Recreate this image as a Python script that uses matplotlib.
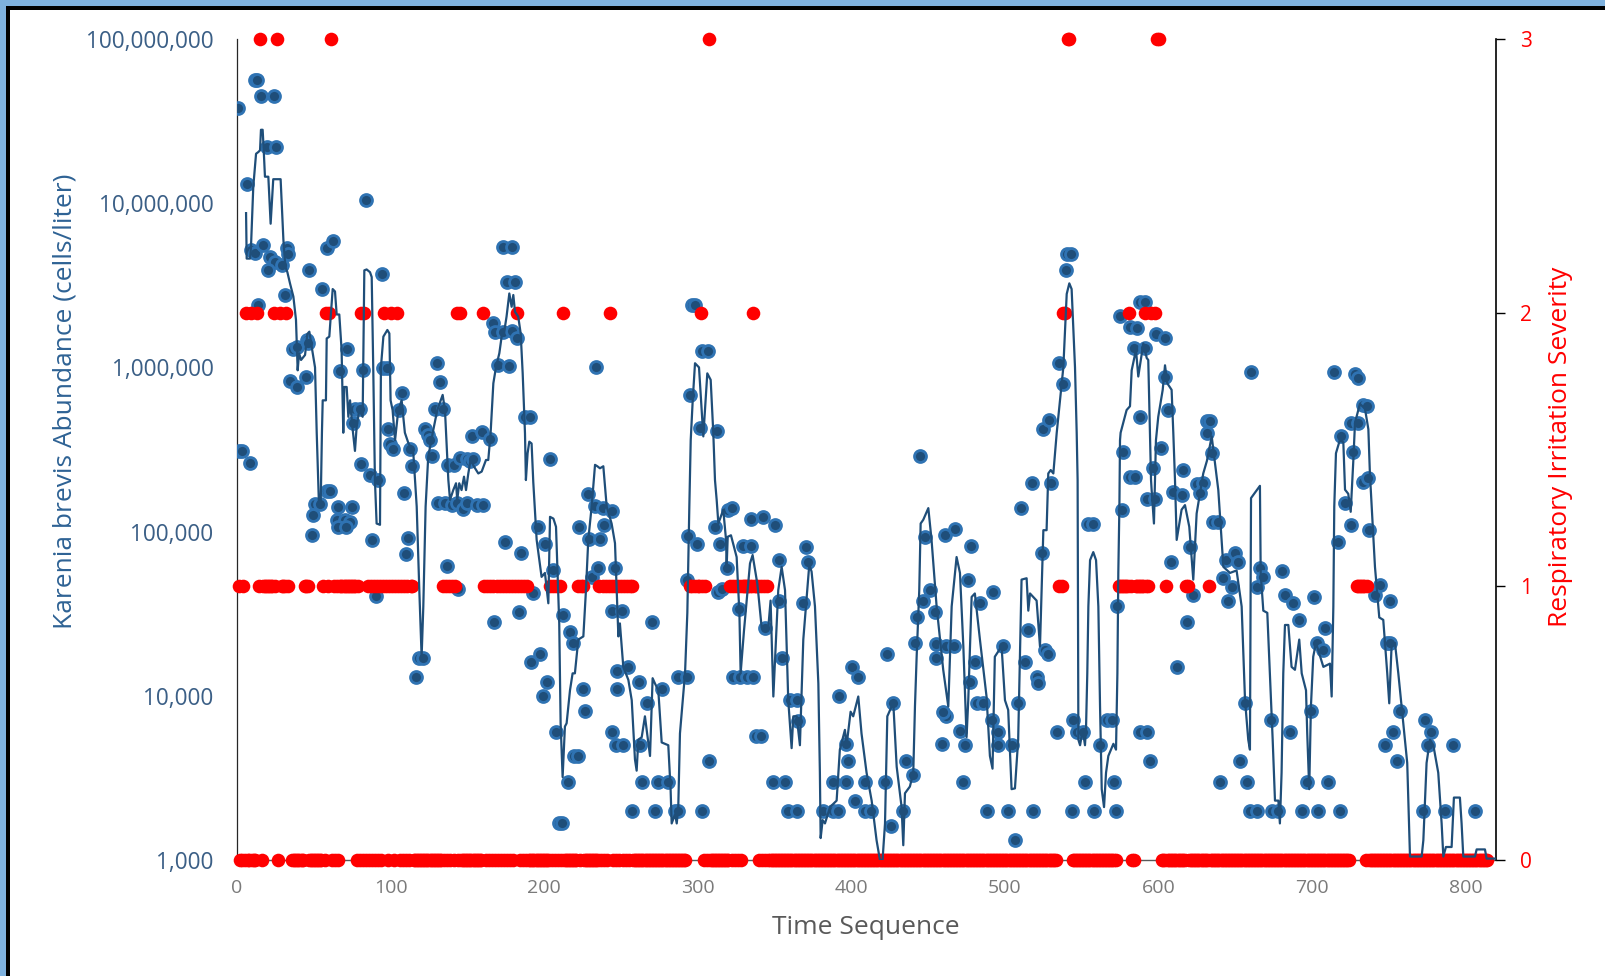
import matplotlib
matplotlib.use("Agg")
import matplotlib.pyplot as plt
from matplotlib.patches import Rectangle
from matplotlib.ticker import NullLocator

plt.rcParams['font.family'] = ['Open Sans', 'DejaVu Sans']

# ---------------- data ----------------
x_ticks = [0, 100, 200, 300, 400, 500, 600, 700, 800]
y_ticks = [1e3, 1e4, 1e5, 1e6, 1e7, 1e8]
sev_ticks = [0, 1, 2, 3]

# observed K. brevis abundance (scatter)
dot_time = [
    0.4, 1.5, 3.5, 8.5, 6.3, 9.0, 11.5, 11.7, 13.2, 15.4,
    24.1, 19.3, 25.4, 17.1, 13.9, 21.5, 24.7, 29.1, 20.4, 32.8,
    33.4, 31.5, 36.2, 38.9, 45.4, 46.4, 34.5, 39.3, 45.0, 46.9,
    50.8, 54.0, 49.7, 48.6, 55.6, 58.4, 62.7, 58.4, 60.5, 65.5,
    74.7, 64.9, 70.3, 73.6, 65.8, 71.0, 67.0, 82.2, 71.4, 75.7,
    76.8, 80.0, 80.5, 84.0, 86.6, 92.0, 88.1, 90.3, 94.6, 95.3,
    97.5, 98.5, 99.6, 101.8, 105.5, 107.2, 108.7, 109.8, 111.5, 112.6,
    114.1, 116.3, 118.5, 120.9, 122.4, 124.6, 125.7, 127.2, 128.6, 134.0,
    130.0, 132.2, 131.0, 135.4, 139.8, 143.0, 147.4, 149.6, 156.0, 160.4,
    136.5, 144.1, 137.6, 141.0, 145.2, 149.5, 151.7, 153.8, 152.8, 159.3,
    164.7, 166.4, 168.3, 172.9, 178.9, 182.1, 170.0, 177.3, 173.4, 178.9,
    175.6, 181.0, 174.7, 167.5, 183.6, 185.1, 187.5, 190.8, 192.8, 195.8,
    191.4, 197.3, 200.5, 199.0, 202.0, 203.8, 206.0, 208.0, 209.5, 211.5,
    212.3, 215.2, 216.8, 218.5, 219.6, 222.2, 222.7, 225.0, 226.6, 228.7,
    233.1, 238.5, 244.0, 229.4, 236.3, 230.9, 235.3, 233.5, 239.2, 244.0,
    250.5, 244.0, 246.7, 246.1, 247.2, 254.8, 247.2, 251.5, 257.0, 261.9,
    262.4, 263.4, 266.7, 270.4, 272.0, 274.2, 276.4, 280.8, 285.0, 287.3,
    287.3, 292.8, 292.8, 293.9, 299.3, 294.9, 296.0, 298.2, 301.4, 302.5,
    306.8, 302.5, 307.3, 311.2, 312.7, 313.3, 315.5, 314.5, 318.8, 319.9,
    322.0, 323.1, 327.5, 331.8, 336.1, 327.0, 329.6, 334.4, 334.9, 342.6,
    350.3, 338.0, 341.0, 343.8, 349.2, 356.8, 352.9, 352.9, 354.6, 358.9,
    364.3, 360.0, 364.3, 365.4, 368.7, 370.2, 371.9, 381.5, 388.0, 391.3,
    388.0, 396.7, 392.0, 396.8, 398.0, 400.5, 404.4, 402.3, 408.8, 408.8,
    412.5, 421.9, 423.3, 425.8, 427.2, 433.3, 435.5, 439.8, 441.4, 442.5,
    446.7, 451.2, 454.4, 445.0, 447.9, 460.9, 467.4, 477.9, 455.4, 461.9,
    466.8, 455.0, 461.9, 459.8, 458.7, 470.7, 474.0, 472.7, 476.0, 477.2,
    480.5, 481.6, 485.9, 483.7, 492.4, 491.3, 495.6, 495.6, 498.8, 504.3,
    488.0, 502.2, 506.5, 508.7, 518.4, 510.7, 517.3, 530.0, 515.2, 513.0,
    520.6, 521.7, 523.8, 526.0, 528.0, 525.0, 528.5, 533.6, 535.3, 537.5,
    539.5, 540.4, 543.0, 543.4, 544.4, 546.6, 550.9, 552.1, 554.3, 557.0,
    558.1, 561.8, 566.2, 569.4, 571.2, 572.2, 573.0, 574.9, 575.9, 576.9,
    581.4, 585.7, 581.4, 584.6, 584.0, 591.1, 587.7, 591.0, 587.9, 587.9,
    592.3, 592.3, 597.7, 594.4, 596.6, 598.3, 604.2, 601.9, 604.2, 606.3,
    608.4, 609.6, 615.0, 612.3, 616.0, 618.2, 620.4, 622.6, 624.8, 629.1,
    627.0, 631.3, 633.5, 631.3, 634.5, 635.6, 638.9, 640.0, 642.0, 644.2,
    645.3, 647.5, 649.6, 651.8, 653.0, 656.3, 657.4, 659.5, 663.8, 660.5,
    663.8, 666.0, 668.2, 673.2, 673.6, 677.9, 680.4, 682.3, 687.8, 685.5,
    691.5, 693.6, 696.4, 699.5, 701.2, 702.9, 707.2, 703.8, 708.3, 710.5,
    714.4, 717.0, 718.0, 719.0, 721.4, 725.0, 725.6, 730.0, 726.8, 727.9,
    730.0, 733.2, 735.4, 733.1, 736.4, 737.0, 740.9, 744.1, 750.7, 748.5,
    750.7, 747.4, 752.8, 755.0, 757.2, 772.3, 773.4, 775.6, 777.7, 786.5,
    791.9, 806.0,
]
dot_cells = [
    3.8e7, 3.1e5, 3.1e5, 2.6e5, 1.3e7, 5.2e6, 5.0e6, 5.6e7, 5.6e7, 4.5e7,
    4.5e7, 2.2e7, 2.2e7, 5.6e6, 2.4e6, 4.7e6, 4.4e6, 4.2e6, 3.9e6, 5.3e6,
    4.9e6, 2.75e6, 1.3e6, 1.34e6, 1.47e6, 1.41e6, 8.3e5, 7.6e5, 8.8e5, 3.9e6,
    1.47e5, 1.47e5, 1.26e5, 9.5e4, 3.0e6, 5.3e6, 5.9e6, 1.77e5, 1.77e5, 1.42e5,
    1.42e5, 1.17e5, 1.17e5, 1.15e5, 1.06e5, 1.07e5, 9.5e5, 9.6e5, 1.3e6, 4.6e5,
    5.6e5, 5.6e5, 2.57e5, 1.05e7, 2.2e5, 2.06e5, 8.9e4, 4.06e4, 3.7e6, 9.9e5,
    9.9e5, 4.2e5, 3.4e5, 3.2e5, 5.5e5, 6.95e5, 1.73e5, 7.3e4, 9.1e4, 3.2e5,
    2.5e5, 1.3e4, 1.7e4, 1.7e4, 4.2e5, 3.9e5, 3.6e5, 2.9e5, 5.6e5, 5.6e5,
    1.07e6, 8.2e5, 1.5e5, 1.5e5, 1.45e5, 1.5e5, 1.38e5, 1.5e5, 1.45e5, 1.45e5,
    6.2e4, 4.5e4, 2.55e5, 2.55e5, 2.8e5, 2.75e5, 2.7e5, 2.75e5, 3.8e5, 4.05e5,
    3.65e5, 1.86e6, 1.64e6, 1.65e6, 1.67e6, 1.52e6, 1.03e6, 1.02e6, 5.4e6, 5.4e6,
    3.3e6, 3.3e6, 8.7e4, 2.8e4, 3.24e4, 7.4e4, 5.0e5, 5.0e5, 4.2e4, 1.06e5,
    1.6e4, 1.8e4, 8.4e4, 1.0e4, 1.22e4, 2.75e5, 5.8e4, 6.0e3, 1.67e3, 1.67e3,
    3.1e4, 3.0e3, 2.43e4, 2.1e4, 4.3e3, 4.3e3, 1.06e5, 1.1e4, 8.1e3, 1.7e5,
    1.43e5, 1.39e5, 1.34e5, 9.0e4, 9.0e4, 5.3e4, 6.0e4, 1.0e6, 1.1e5, 3.3e4,
    3.3e4, 6.0e3, 5.0e3, 6.0e4, 1.42e4, 1.5e4, 1.1e4, 5.0e3, 2.0e3, 1.22e4,
    5.0e3, 3.0e3, 9.1e3, 2.8e4, 2.0e3, 3.0e3, 1.1e4, 3.0e3, 2.0e3, 2.0e3,
    1.3e4, 1.3e4, 5.1e4, 9.4e4, 8.4e4, 6.8e5, 2.4e6, 2.4e6, 4.3e5, 1.26e6,
    1.26e6, 2.0e3, 4.0e3, 1.06e5, 4.1e5, 4.3e4, 4.5e4, 8.4e4, 6.0e4, 1.36e5,
    1.4e5, 1.3e4, 1.3e4, 1.3e4, 1.3e4, 3.4e4, 8.2e4, 8.2e4, 1.19e5, 1.23e5,
    1.1e5, 5.7e3, 5.7e3, 2.6e4, 3.0e3, 3.0e3, 6.7e4, 3.8e4, 1.7e4, 2.0e3,
    2.0e3, 9.4e3, 9.4e3, 7.0e3, 3.7e4, 8.1e4, 6.5e4, 2.0e3, 2.0e3, 2.0e3,
    3.0e3, 3.0e3, 1.0e4, 5.1e3, 4.0e3, 1.5e4, 1.3e4, 2.3e3, 3.0e3, 2.0e3,
    2.0e3, 3.0e3, 1.8e4, 1.6e3, 9.1e3, 2.0e3, 4.0e3, 3.3e3, 2.1e4, 3.0e4,
    3.8e4, 4.4e4, 3.25e4, 2.9e5, 9.3e4, 9.5e4, 1.03e5, 8.2e4, 2.07e4, 2.0e4,
    2.0e4, 1.7e4, 7.5e3, 8.0e3, 5.1e3, 6.1e3, 5.0e3, 3.0e3, 5.1e4, 1.22e4,
    1.6e4, 9.1e3, 9.1e3, 3.7e4, 4.3e4, 7.1e3, 6.0e3, 5.0e3, 2.0e4, 5.0e3,
    2.0e3, 2.0e3, 1.32e3, 9.1e3, 2.0e3, 1.39e5, 1.97e5, 1.97e5, 2.5e4, 1.6e4,
    1.3e4, 1.2e4, 7.4e4, 1.9e4, 1.8e4, 4.2e5, 4.8e5, 6.0e3, 1.07e6, 7.9e5,
    3.9e6, 4.9e6, 4.9e6, 2.0e3, 7.1e3, 6.0e3, 6.0e3, 3.0e3, 1.12e5, 1.12e5,
    2.0e3, 5.0e3, 7.1e3, 7.1e3, 3.0e3, 2.0e3, 3.5e4, 2.05e6, 1.36e5, 3.07e5,
    1.77e6, 1.73e6, 2.14e5, 2.16e5, 1.32e6, 1.32e6, 2.5e6, 2.5e6, 5.0e5, 6.0e3,
    6.0e3, 1.58e5, 1.58e5, 4.0e3, 2.45e5, 1.59e6, 1.5e6, 3.25e5, 8.8e5, 5.5e5,
    6.5e4, 1.75e5, 1.67e5, 1.5e4, 2.37e5, 2.8e4, 8.1e4, 4.1e4, 1.95e5, 1.97e5,
    1.71e5, 4.7e5, 4.7e5, 4.0e5, 3.0e5, 1.15e5, 1.15e5, 3.0e3, 5.2e4, 6.7e4,
    3.8e4, 4.6e4, 7.4e4, 6.5e4, 4.0e3, 9.1e3, 3.0e3, 2.0e3, 2.0e3, 9.4e5,
    4.6e4, 6.0e4, 5.3e4, 7.1e3, 2.0e3, 2.0e3, 5.75e4, 4.1e4, 3.7e4, 6.0e3,
    2.9e4, 2.0e3, 3.0e3, 8.1e3, 4.0e4, 2.1e4, 1.9e4, 2.0e3, 2.6e4, 3.0e3,
    9.4e5, 8.7e4, 2.0e3, 3.8e5, 1.5e5, 1.1e5, 4.6e5, 4.6e5, 3.07e5, 9.1e5,
    8.6e5, 5.9e5, 5.8e5, 2.0e5, 2.13e5, 1.02e5, 4.1e4, 4.7e4, 3.8e4, 2.1e4,
    2.1e4, 5.0e3, 6.0e3, 4.0e3, 8.1e3, 2.0e3, 7.1e3, 5.0e3, 6.0e3, 2.0e3,
    5.0e3, 2.0e3,
]

# smoothed abundance (line)
line_time = [
    5.9, 6.3, 8.5, 9.1, 10.6, 12.4, 13.9, 15.0, 15.6, 16.7,
    17.4, 18.2, 20.4, 21.9, 23.6, 28.4, 30.2, 31.5, 32.8, 34.5,
    36.7, 38.4, 39.5, 40.4, 41.7, 44.3, 45.8, 47.1, 48.6, 50.8,
    51.9, 53.4, 54.5, 55.3, 55.8, 57.9, 58.4, 60.1, 62.3, 63.8,
    64.9, 66.6, 68.1, 69.2, 69.9, 71.4, 72.5, 73.6, 75.3, 76.8,
    77.9, 79.6, 81.8, 82.9, 84.4, 86.6, 87.7, 88.7, 89.8, 90.9,
    93.1, 93.7, 95.3, 97.9, 99.2, 100.0, 101.3, 102.9, 105.0, 107.2,
    109.3, 111.4, 114.8, 117.0, 118.7, 120.2, 121.3, 122.8, 124.5, 127.8,
    130.4, 133.9, 135.4, 137.6, 138.7, 140.8, 142.6, 143.4, 144.7, 146.2,
    147.8, 149.1, 150.6, 152.1, 154.3, 157.1, 159.3, 162.1, 163.6, 165.1,
    166.9, 168.6, 170.8, 172.3, 173.8, 175.5, 177.3, 178.8, 179.9, 181.0,
    183.1, 184.7, 186.0, 187.5, 188.1, 189.2, 190.3, 191.8, 192.9, 195.1,
    198.3, 200.5, 202.7, 203.8, 206.0, 207.7, 209.8, 210.7, 212.0, 213.5,
    214.6, 216.8, 218.5, 220.0, 222.2, 225.5, 227.2, 228.7, 230.9, 233.1,
    234.6, 236.3, 238.5, 240.7, 243.9, 246.1, 248.3, 249.3, 251.5, 254.8,
    257.0, 259.1, 260.2, 261.3, 263.5, 265.6, 268.9, 270.6, 272.1, 274.3,
    276.5, 280.8, 282.3, 283.0, 285.2, 286.3, 287.3, 288.4, 291.7, 293.2,
    294.5, 295.4, 296.7, 298.2, 300.8, 303.6, 306.2, 308.4, 310.1, 311.2,
    312.3, 313.4, 316.6, 318.4, 318.8, 319.5, 321.6, 325.3, 327.1, 327.9,
    330.1, 334.0, 335.7, 338.8, 341.6, 345.9, 347.4, 349.2, 352.4, 354.6,
    356.8, 358.9, 361.1, 362.2, 364.4, 366.5, 368.7, 372.6, 374.1, 376.3,
    378.5, 379.5, 380.0, 381.3, 382.8, 386.1, 390.4, 392.5, 395.8, 396.9,
    399.5, 401.2, 404.5, 406.6, 409.9, 413.2, 416.4, 418.6, 420.3, 421.9,
    423.4, 426.2, 427.3, 429.5, 432.7, 433.8, 434.9, 438.1, 440.3, 441.4,
    442.5, 444.2, 445.1, 446.8, 450.1, 452.2, 455.5, 459.8, 463.1, 465.3,
    468.5, 470.7, 472.9, 475.0, 476.1, 478.3, 480.4, 483.7, 488.0, 490.2,
    491.9, 493.4, 497.8, 500.0, 502.1, 504.3, 506.5, 508.6, 510.8, 514.1,
    515.2, 516.3, 520.6, 522.8, 525.0, 527.1, 528.2, 529.8, 531.5, 533.7,
    538.0, 540.2, 541.9, 543.4, 545.6, 546.7, 547.3, 547.8, 548.9, 550.6,
    552.1, 552.8, 553.6, 554.3, 555.4, 557.5, 559.3, 560.8, 561.9, 563.0,
    564.5, 565.8, 567.3, 570.6, 572.3, 573.2, 573.8, 574.5, 574.9, 575.3,
    579.2, 581.4, 582.5, 585.3, 586.8, 590.1, 592.3, 593.3, 594.4, 595.1,
    595.5, 597.0, 598.3, 599.8, 602.7, 604.2, 605.7, 608.5, 609.6, 610.7,
    611.8, 615.0, 617.2, 620.0, 622.6, 624.8, 629.1, 631.5, 634.6, 637.0,
    638.9, 642.2, 646.5, 650.8, 654.1, 656.3, 658.4, 659.5, 660.2, 666.0,
    666.5, 668.2, 670.8, 672.5, 674.3, 675.8, 678.0, 679.0, 680.1, 681.2,
    682.3, 684.5, 686.6, 688.8, 691.6, 693.2, 696.0, 696.8, 698.1, 699.2,
    700.7, 702.5, 707.3, 711.6, 712.7, 713.8, 714.4, 715.5, 718.0, 720.3,
    721.4, 723.5, 725.1, 726.8, 727.9, 731.1, 734.4, 736.6, 737.6, 740.9,
    743.7, 746.3, 748.9, 750.2, 751.7, 753.9, 756.1, 759.3, 761.9, 763.7,
    771.3, 772.4, 774.5, 776.7, 778.9, 782.1, 784.3, 785.4, 787.1, 790.8,
    792.3, 796.2, 797.3, 798.4, 806.0, 807.1, 812.5, 813.6, 819.0,
]
line_cells = [
    8.7e6, 4.6e6, 4.6e6, 5.4e6, 1.26e7, 2.0e7, 2.05e7, 2.1e7, 2.8e7, 2.8e7,
    2.1e7, 1.45e7, 1.45e7, 7.5e6, 1.4e7, 1.4e7, 6.0e6, 4.1e6, 3.8e6, 3.25e6,
    2.7e6, 1.95e6, 9.6e5, 1.22e6, 1.11e6, 1.19e6, 1.6e6, 1.65e6, 1.34e6, 1.0e6,
    4.0e5, 1.42e5, 1.49e5, 4.0e5, 6.3e5, 6.3e5, 1.5e6, 1.54e6, 3.0e6, 2.9e6,
    2.1e6, 2.1e6, 1.28e6, 4.0e5, 7.6e5, 7.6e5, 5.0e5, 6.3e5, 4.2e5, 3.1e5,
    4.35e5, 5.5e5, 5.0e5, 3.9e6, 3.95e6, 3.8e6, 3.55e6, 1.0e6, 2.06e5, 1.12e5,
    1.1e5, 1.0e6, 1.54e6, 1.69e6, 1.61e6, 6.3e5, 5.5e5, 3.6e5, 5.5e5, 6.3e5,
    4.0e5, 3.5e5, 3.0e5, 1.42e5, 4.4e4, 1.73e4, 3.5e4, 1.42e5, 2.86e5, 4.16e5,
    5.5e5, 6.8e5, 5.5e5, 2.06e5, 1.56e5, 1.79e5, 1.97e5, 1.56e5, 1.97e5, 1.79e5,
    2.16e5, 1.79e5, 2.26e5, 2.73e5, 2.49e5, 2.26e5, 2.32e5, 2.73e5, 2.73e5, 3.96e5,
    8.0e5, 1.0e6, 1.22e6, 1.54e6, 1.61e6, 2.04e6, 2.82e6, 2.34e6, 2.76e6, 2.18e6,
    2.04e6, 1.61e6, 9.2e5, 3.96e5, 2.06e5, 3.0e5, 3.53e5, 3.44e5, 2.0e5, 8.9e4,
    5.3e4, 5.6e4, 3.66e4, 1.23e5, 1.2e5, 1.07e5, 2.76e4, 6.8e3, 3.2e3, 6.5e3,
    6.8e3, 1.08e4, 1.37e4, 1.37e4, 2.2e4, 2.3e4, 4.4e4, 8.9e4, 1.42e5, 2.55e5,
    2.5e5, 2.43e5, 2.5e5, 1.42e5, 1.12e5, 8.5e4, 2.3e4, 2.76e4, 1.5e4, 1.25e4,
    9.4e3, 4.1e3, 3.5e3, 5.4e3, 5.6e3, 7.5e3, 4.3e3, 1.28e4, 1.19e4, 1.08e4,
    5.2e3, 5.0e3, 2.7e3, 1.67e3, 1.9e3, 1.67e3, 2.1e3, 5.9e3, 1.37e4, 3.2e4,
    1.42e5, 3.6e5, 6.3e5, 1.06e6, 1.0e6, 3.8e5, 9.2e5, 8.4e5, 4.0e5, 2.06e5,
    1.56e5, 1.12e5, 1.36e5, 8.9e4, 6.1e4, 9.3e4, 9.5e4, 7.0e4, 3.2e4, 1.37e4,
    2.5e4, 6.4e4, 7.2e4, 4.8e4, 2.6e4, 2.6e4, 3.8e4, 9.9e3, 4.4e4, 6.1e4,
    4.4e4, 9.4e3, 4.8e3, 7.5e3, 7.5e3, 5.0e3, 2.2e4, 6.3e4, 5.7e4, 3.5e4,
    1.19e4, 3.4e3, 1.36e3, 1.75e3, 1.67e3, 2.1e3, 2.3e3, 4.7e3, 6.2e3, 5.0e3,
    8.0e3, 7.5e3, 9.9e3, 5.9e3, 3.4e3, 2.3e3, 1.32e3, 1.0e3, 1.0e3, 1.67e3,
    7.5e3, 8.6e3, 9.0e3, 3.7e3, 2.1e3, 1.23e3, 2.55e3, 2.8e3, 3.4e3, 8.6e3,
    1.73e4, 4.4e4, 1.12e5, 1.18e5, 1.39e5, 8.9e4, 3.5e4, 1.44e4, 8.6e3, 3.5e4,
    7.0e4, 5.6e4, 2.0e4, 5.6e3, 9.4e3, 4.0e4, 4.2e4, 2.2e4, 9.9e3, 4.3e3,
    3.6e3, 1.73e4, 2.0e4, 9.4e3, 8.2e3, 2.7e3, 2.73e3, 5.4e3, 5.1e4, 5.2e4,
    3.3e4, 4.2e4, 3.8e4, 2.0e4, 1.02e5, 1.02e5, 2.26e5, 2.37e5, 2.26e5, 4.0e5,
    1.0e6, 2.8e6, 3.25e6, 3.0e6, 1.0e6, 4.0e5, 2.06e5, 5.4e3, 5.0e3, 6.2e3,
    5.0e3, 6.5e3, 1.37e4, 3.5e4, 6.7e4, 7.5e4, 6.7e4, 3.5e4, 8.6e3, 2.7e3,
    2.1e3, 3.4e3, 4.3e3, 5.1e3, 4.7e3, 1.37e4, 5.6e4, 1.42e5, 3.6e5, 4.0e5,
    5.5e5, 5.8e5, 9.6e5, 1.28e6, 8.8e5, 1.4e6, 1.14e6, 1.11e6, 4.0e5, 2.06e5,
    1.79e5, 1.12e5, 3.6e5, 5.0e5, 7.3e5, 1.03e6, 8.0e5, 7.3e5, 4.0e5, 2.06e5,
    8.9e4, 1.36e5, 1.45e5, 1.07e5, 5.1e4, 1.29e5, 2.26e5, 2.7e5, 3.8e5, 2.5e5,
    1.79e5, 6.1e4, 5.6e4, 5.8e4, 3.5e4, 9.4e3, 5.4e3, 4.7e3, 1.6e5, 1.9e5,
    5.6e4, 3.3e4, 3.2e4, 1.37e4, 5.4e3, 2.3e3, 2.3e3, 1.67e3, 3.4e3, 1.37e4,
    2.7e4, 2.7e4, 1.5e4, 1.44e4, 2.2e4, 1.37e4, 1.08e4, 5.9e3, 2.7e3, 8.6e3,
    1.73e4, 2.1e4, 1.5e4, 1.57e4, 9.9e3, 3.5e4, 1.42e5, 3.0e5, 3.6e5, 3.5e5,
    1.8e5, 1.7e5, 1.32e5, 2.7e5, 4.6e5, 6.0e5, 5.6e5, 4.2e5, 2.26e5, 6.1e4,
    3.0e4, 2.9e4, 1.37e4, 9.0e3, 2.0e4, 2.1e4, 1.37e4, 6.8e3, 3.9e3, 1.05e3,
    1.05e3, 1.32e3, 3.9e3, 5.4e3, 5.0e3, 3.4e3, 1.67e3, 1.05e3, 1.2e3, 1.2e3,
    2.4e3, 2.4e3, 1.67e3, 1.05e3, 1.05e3, 1.16e3, 1.16e3, 1.02e3, 1.02e3,
]

# respiratory irritation severity, one character per time step (t = 0..819);
# '.' = no report at that time step
severity_code = (
    ".100102002" "0002130111" "1111213021" "1121..0000" "0000111000"
    "0000001021" "2301010111" "1111111101" "0202010101" "0101012101"
    "2101210101" "0101100000" "0000000000" "0000101010" "1012020000"
    "0000000000" "2101010101" "0101010101" "0121010101" "0000000000"
    "0000101010" "1020000000" "0010110000" "0000001010" "1012101010"
    "1010101100" "0000000000" "0000000000" "0000000000" "000..11.1."
    "1121010300" "0000000000" "0101010101" "1111112111" "0101010000"
    "0000000000" "0000000000" "0000000000" "0000000000" "0000000000"
    "0000000000" "0000000000" "0000000000" "0000000000" "0000000000"
    "0000000000" "0000000000" "0000000000" "0000000000" "0000000000"
    "0000000000" "0000000000" "0000000000" "0000.1.122" ".33.000000"
    "0000000000" "0000000000" "000.111111" "1210011111" "1211.2..23"
    "3.00010000" "0000000011" "0000000000" "0001000000" "0000000000"
    "0000000000" "0000000000" "0000000000" "0000000000" "0000000000"
    "0000000000" "0000000000" "00000....1" "1111101000" "0000000000"
    "0000000000" "0000000000" "0000000000" "0000000000" "0000000000"
    "0000000000" "00000....."
)
sev_time = [i for i, c in enumerate(severity_code) if c != '.']
sev_value = [int(c) for c in severity_code if c != '.']

# ---------------- figure ----------------
W, H = 1606, 976
fig = plt.figure(figsize=(W / 100, H / 100), dpi=100)
fig.patch.set_facecolor('white')

L, R, T, B = 237, 1496, 39, 860
rect = [L / W, 1 - B / H, (R - L) / W, (B - T) / H]

ax = fig.add_axes(rect)
ax.set_yscale('log')
ax.set_xlim(0, 819.7)
ax.set_ylim(1e3, 1e8)
ax.set_yticks(y_ticks)
ax.set_yticklabels(['{:,.0f}'.format(v) for v in y_ticks])
ax.yaxis.set_minor_locator(NullLocator())
ax.set_xticks(x_ticks)
ax.set_xticklabels([str(v) for v in x_ticks])
ax.tick_params(axis='y', which='both', length=0, pad=17, labelsize=16.3,
               labelcolor='#3b5f86')
ax.tick_params(axis='x', length=0, pad=14, labelsize=14, labelcolor='#7a7a7a')
for s in ['top', 'right']:
    ax.spines[s].set_visible(False)
ax.spines['left'].set_color('#262626')
ax.spines['left'].set_linewidth(0.9)
ax.spines['bottom'].set_color('#595959')
ax.spines['bottom'].set_linewidth(1.0)

ax.plot(dot_time, dot_cells, linestyle='none', marker='o', ms=8.6,
        mfc='#1f4e79', mec='#2f73b3', mew=2.0, zorder=3)

ax2 = ax.twinx()
ax2.set_ylim(0, 3)
ax2.set_yticks(sev_ticks)
ax2.set_yticklabels([str(v) for v in sev_ticks])
ax2.tick_params(axis='y', length=6.5, width=1, color='black', direction='out',
                pad=11, labelsize=15, labelcolor='#ff0000')
for s in ['top', 'left', 'bottom']:
    ax2.spines[s].set_visible(False)
ax2.spines['right'].set_color('black')
ax2.spines['right'].set_linewidth(1.2)
ax2.plot(sev_time, sev_value, linestyle='none', marker='o', ms=9.8,
         mfc='#ff0000', mec='#ff0000', mew=0, clip_on=False, zorder=3)

ax3 = ax.twinx()
ax3.set_yscale('log')
ax3.set_ylim(1e3, 1e8)
ax3.set_axis_off()
ax3.plot(line_time, line_cells, color='#1f4e79', lw=1.6, zorder=4)

# axis titles
fig.text(65.5 / W, 1 - 401 / H, 'Karenia brevis Abundance (cells/liter)',
         rotation=90, ha='center', va='center', color='#2e6294', fontsize=19)
fig.text(1561 / W, 1 - 447 / H, 'Respiratory Irritation Severity',
         rotation=90, ha='center', va='center', color='#ff0000', fontsize=19)
fig.text(866 / W, 1 - 928 / H, 'Time Sequence', ha='center', va='center',
         color='#595959', fontsize=19)

# window frame (light blue + black edge on top and left)
fig.add_artist(Rectangle((0, 1 - 6 / H), 1, 6 / H, transform=fig.transFigure,
                         facecolor='#7fb2df', edgecolor='none', zorder=10))
fig.add_artist(Rectangle((0, 0), 6 / W, 1, transform=fig.transFigure,
                         facecolor='#7fb2df', edgecolor='none', zorder=10))
fig.add_artist(Rectangle((6 / W, 1 - 9.5 / H), 1, 3.5 / H, transform=fig.transFigure,
                         facecolor='black', edgecolor='none', zorder=10))
fig.add_artist(Rectangle((6 / W, 0), 4 / W, 1 - 6 / H, transform=fig.transFigure,
                         facecolor='black', edgecolor='none', zorder=10))

fig.savefig('out.png', dpi=100, facecolor='white')
